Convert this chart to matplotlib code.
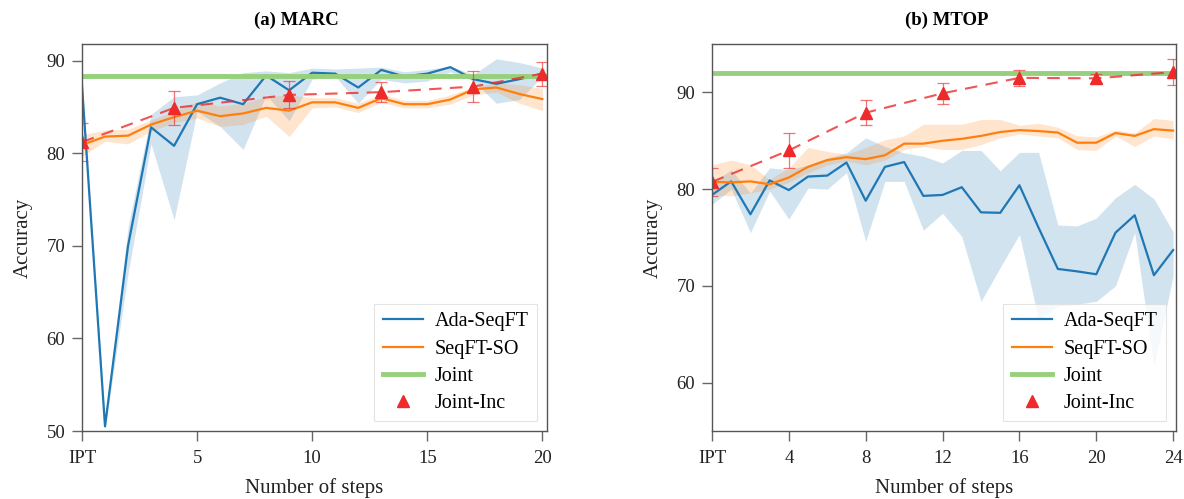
import numpy as np
import matplotlib
matplotlib.use('Agg')
import matplotlib.pyplot as plt

plt.rcParams['font.family'] = ['Liberation Serif', 'DejaVu Serif']

# (a) MARC
marc_steps = np.arange(0, 21)
marc_ada = [87.3, 50.5, 70.0, 82.8, 80.8, 85.3, 86.0, 85.3, 88.4, 86.8, 88.7,
            88.6, 87.1, 89.0, 88.3, 88.6, 89.3, 88.0, 87.5, 88.0, 88.6]
marc_ada_lo = [86.6, 50.2, 67.0, 81.0, 72.8, 84.5, 82.9, 80.4, 86.3, 83.5, 88.0,
               88.3, 85.4, 88.0, 87.6, 87.8, 88.8, 87.8, 85.4, 85.8, 88.3]
marc_ada_hi = [88.0, 51.2, 72.0, 84.2, 86.1, 86.3, 87.6, 88.7, 88.9, 88.7, 89.2,
               89.1, 89.2, 89.3, 88.8, 89.05, 89.4, 88.5, 90.2, 89.8, 89.2]
marc_so = [80.9, 81.8, 81.9, 83.1, 83.9, 84.6, 84.0, 84.3, 84.9, 84.6, 85.5,
           85.5, 84.9, 85.95, 85.3, 85.3, 85.8, 86.9, 87.1, 86.4, 85.85]
marc_so_lo = [79.65, 81.3, 81.0, 82.4, 83.3, 83.8, 82.9, 83.1, 84.0, 81.8, 84.9,
              85.0, 84.4, 85.5, 84.9, 84.9, 85.3, 86.3, 86.6, 85.4, 84.6]
marc_so_hi = [82.0, 82.5, 82.6, 83.6, 84.5, 85.6, 85.1, 85.4, 86.1, 86.3, 86.0,
              86.0, 85.4, 86.4, 85.7, 85.7, 86.3, 87.2, 87.6, 87.4, 87.0]
marc_joint = 88.3
marc_inc_steps = [0, 4, 9, 13, 17, 20]
marc_inc = [81.2, 84.9, 86.3, 86.6, 87.2, 88.6]
marc_inc_err = [2.05, 1.8, 1.45, 1.1, 1.65, 1.3]

# (b) MTOP
mtop_steps = np.arange(0, 25)
mtop_ada = [79.4, 80.8, 77.4, 80.9, 79.9, 81.3, 81.4, 82.75, 78.8, 82.3, 82.8,
            79.3, 79.4, 80.2, 77.6, 77.55, 80.4, 76.0, 71.75, 71.5, 71.2, 75.5,
            77.3, 71.1, 73.7]
mtop_ada_lo = [78.4, 80.0, 75.5, 79.8, 76.9, 80.1, 80.0, 81.7, 74.6, 80.8, 80.8,
               75.75, 77.5, 75.1, 68.4, 71.9, 75.3, 66.5, 67.9, 68.1, 68.4, 70.0,
               75.5, 61.7, 71.0]
mtop_ada_hi = [80.65, 82.0, 79.6, 82.2, 82.0, 82.5, 83.2, 83.75, 85.3, 84.4, 83.75,
               83.4, 82.7, 84.0, 84.0, 81.9, 83.8, 83.8, 76.3, 76.2, 77.0, 79.1,
               80.5, 79.0, 75.6]
mtop_so = [80.75, 80.7, 80.8, 80.5, 81.2, 82.3, 83.0, 83.3, 83.1, 83.5, 84.7,
           84.7, 85.0, 85.2, 85.5, 85.9, 86.1, 86.0, 85.85, 84.8, 84.8, 85.8,
           85.5, 86.2, 86.05]
mtop_so_lo = [79.4, 79.3, 79.6, 80.0, 80.7, 81.7, 82.5, 82.9, 82.5, 83.0, 84.1,
              84.4, 84.1, 84.1, 84.6, 85.3, 85.7, 85.5, 85.3, 84.1, 84.0, 85.5,
              84.4, 85.5, 85.2]
mtop_so_hi = [82.5, 83.0, 82.5, 81.0, 82.2, 84.3, 83.9, 83.6, 84.3, 85.1, 85.5,
              86.7, 86.7, 86.7, 87.2, 87.2, 86.6, 86.8, 86.4, 85.5, 85.4, 86.1,
              85.8, 87.3, 87.1]
mtop_joint = 92.0
mtop_inc_steps = [0, 4, 8, 12, 16, 20, 24]
mtop_inc = [80.75, 84.0, 87.9, 89.9, 91.5, 91.45, 92.1]
mtop_inc_err = [1.45, 1.8, 1.3, 1.1, 0.85, 0.5, 1.3]

marc_ticks = [0, 5, 10, 15, 20]
marc_ticklabels = ['IPT', '5', '10', '15', '20']
mtop_ticks = [0, 4, 8, 12, 16, 20, 24]
mtop_ticklabels = ['IPT', '4', '8', '12', '16', '20', '24']

BLUE = '#1f77b4'
ORANGE = '#ff7f0e'
GREEN = '#96d07c'
RED = '#ee2a2a'


def draw_panel(ax, steps, ada, ada_lo, ada_hi, so, so_lo, so_hi, joint,
               inc_steps, inc, inc_err, title, title_x, ticks, ticklabels,
               xmax, ylim, yticks):
    ax.fill_between(steps, ada_lo, ada_hi, color=BLUE, alpha=0.2, lw=0)
    ax.fill_between(steps, so_lo, so_hi, color=ORANGE, alpha=0.2, lw=0)
    ax.plot(steps, ada, color=BLUE, lw=1.6, label='Ada-SeqFT')
    ax.plot(steps, so, color=ORANGE, lw=1.6, label='SeqFT-SO')
    ax.axhline(joint, color=GREEN, lw=3.5, label='Joint')
    ax.plot(inc_steps, inc, color=RED, ls=(0, (6, 4)), lw=1.5, alpha=0.8)
    ax.errorbar(inc_steps, inc, yerr=inc_err, fmt='none', ecolor=RED,
                elinewidth=0.9, capsize=4, capthick=0.9, alpha=0.65)
    ax.plot(inc_steps, inc, '^', color=RED, ms=9, ls='none', label='Joint-Inc')

    ax.set_xlim(0, xmax)
    ax.set_ylim(*ylim)
    ax.set_xticks(ticks)
    ax.set_xticklabels(ticklabels)
    ax.set_yticks(yticks)
    ax.tick_params(direction='out', length=7, width=1, colors='#666666',
                   labelcolor='#222222', labelsize=13.5, pad=5)
    ax.tick_params(axis='x', pad=6.5)
    for s in ax.spines.values():
        s.set_color('#555555')
        s.set_linewidth(1)
    ax.set_xlabel('Number of steps', fontsize=15, color='#222222', labelpad=8)
    ax.set_ylabel('Accuracy', fontsize=15, color='#222222', labelpad=10)
    ax.set_title(title, fontsize=13.5, fontweight='bold', pad=14, x=title_x)
    leg = ax.legend(loc='lower right', fontsize=14.5, handlelength=2.0,
                    handletextpad=0.6, labelspacing=0.4,
                    framealpha=0.8, edgecolor='#dddddd', fancybox=False)
    leg.get_frame().set_linewidth(0.8)


fig = plt.figure(figsize=(11.84, 4.99), dpi=100)
ax1 = fig.add_axes([82 / 1184, 1 - 431 / 499, 465 / 1184, 387 / 499])
ax2 = fig.add_axes([712 / 1184, 1 - 431 / 499, 464 / 1184, 387 / 499])

draw_panel(ax1, marc_steps, marc_ada, marc_ada_lo, marc_ada_hi,
           marc_so, marc_so_lo, marc_so_hi, marc_joint,
           marc_inc_steps, marc_inc, marc_inc_err, '(a) MARC', 0.462,
           marc_ticks, marc_ticklabels, 20.2, (50, 91.8), [50, 60, 70, 80, 90])
draw_panel(ax2, mtop_steps, mtop_ada, mtop_ada_lo, mtop_ada_hi,
           mtop_so, mtop_so_lo, mtop_so_hi, mtop_joint,
           mtop_inc_steps, mtop_inc, mtop_inc_err, '(b) MTOP', 0.505,
           mtop_ticks, mtop_ticklabels, 24.15, (55, 95), [60, 70, 80, 90])

fig.savefig('out.png', dpi=100)
